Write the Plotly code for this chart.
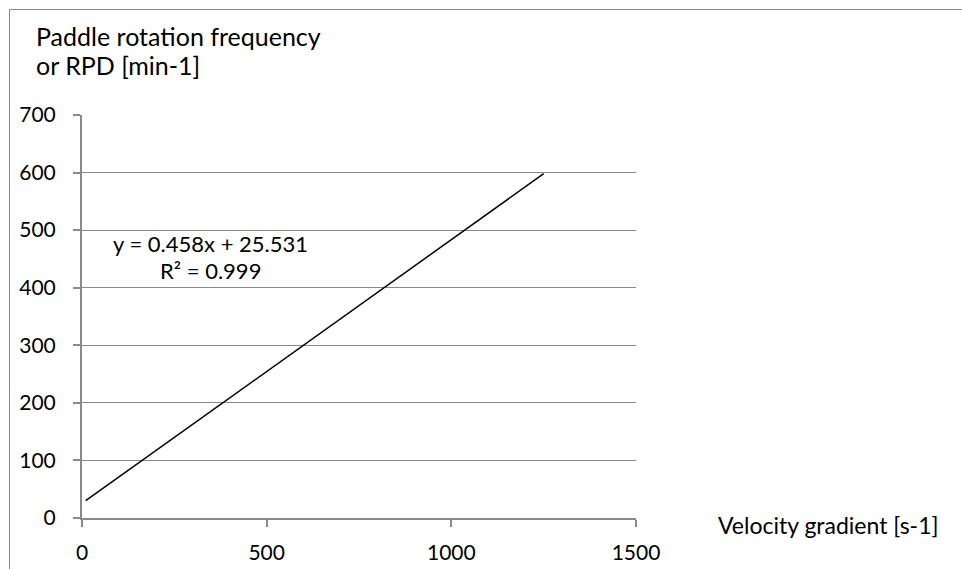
import plotly.graph_objects as go

# Data (trend line end points)
x_vals = [10, 1250]
y_vals = [30, 598]

x_ticks = [0, 500, 1000, 1500]
y_ticks = [0, 100, 200, 300, 400, 500, 600, 700]

y_title_lines = ["Paddle rotation frequency", "or RPD [min-1]"]
x_title = "Velocity gradient [s-1]"
eq_lines = ["y = 0.458x + 25.531", "R² = 0.999"]

FONT = "Lato"
GRAY = "#898989"

W, H = 962, 569
L, R, T, B = 82, 636, 115, 518

fig = go.Figure()
fig.add_trace(go.Scatter(x=x_vals, y=y_vals, mode="lines",
                         line=dict(color="black", width=1.5),
                         showlegend=False, hoverinfo="skip"))

def px_x(p):
    return (p - L) / (R - L)

def px_y(p):
    return (B - p) / (B - T)

# outer chart border (left and top edges visible)
fig.add_shape(type="line", xref="paper", yref="paper",
              x0=px_x(9.5), x1=px_x(9.5), y0=px_y(580), y1=px_y(9.5),
              line=dict(color=GRAY, width=1))
fig.add_shape(type="line", xref="paper", yref="paper",
              x0=px_x(9.5), x1=px_x(975), y0=px_y(9.5), y1=px_y(9.5),
              line=dict(color=GRAY, width=1))

for txt, yc in zip(y_title_lines, [36, 65]):
    fig.add_annotation(xref="paper", yref="paper", x=px_x(34), y=px_y(yc),
                       xanchor="left", yanchor="middle",
                       text=txt, showarrow=False,
                       font=dict(family=FONT, size=25, color="black"))
fig.add_annotation(xref="paper", yref="paper", x=px_x(716), y=px_y(525),
                   xanchor="left", yanchor="middle",
                   text=x_title, showarrow=False,
                   font=dict(family=FONT, size=23, color="black"))
for txt, yc in zip(eq_lines, [243, 270]):
    fig.add_annotation(xref="paper", yref="paper", x=px_x(210), y=px_y(yc),
                       xanchor="center", yanchor="middle",
                       text=txt, showarrow=False,
                       font=dict(family=FONT, size=22, color="black"))

fig.update_layout(
    width=W, height=H,
    margin=dict(l=L, r=W - R, t=T, b=H - B, autoexpand=False),
    paper_bgcolor="white", plot_bgcolor="white",
    font=dict(family=FONT, size=21, color="black"),
    xaxis=dict(range=[0, 1500], tickvals=x_ticks, showgrid=False,
               showline=True, linecolor=GRAY, linewidth=2,
               ticks="outside", ticklen=7, tickcolor=GRAY, tickwidth=2,
               ticklabelstandoff=8, zeroline=False, fixedrange=True),
    yaxis=dict(range=[0, 700], tickvals=y_ticks, showgrid=True,
               gridcolor=GRAY, gridwidth=1,
               showline=True, linecolor=GRAY, linewidth=2,
               ticks="outside", ticklen=7, tickcolor=GRAY, tickwidth=2,
               ticklabelstandoff=13, zeroline=False, fixedrange=True),
)

fig.write_html("out.html")
